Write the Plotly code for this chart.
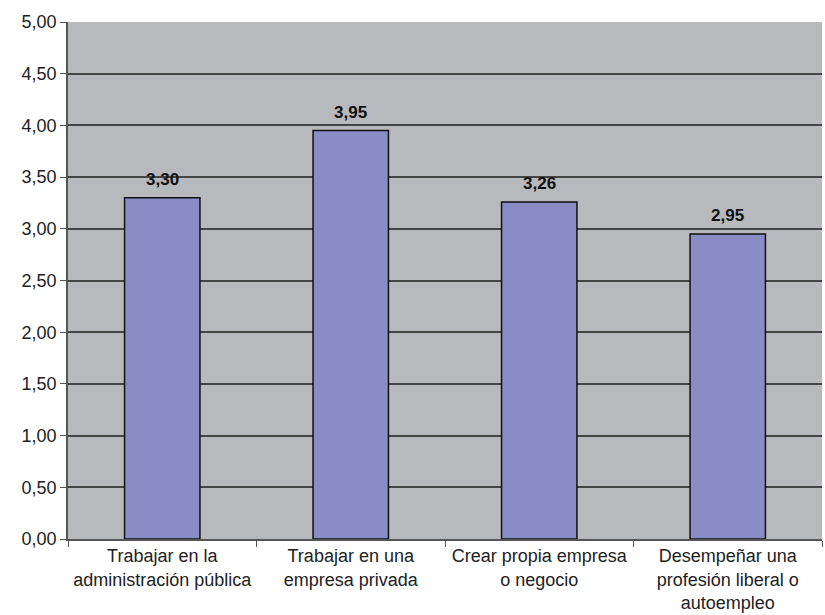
import plotly.graph_objects as go

categories = [
    "Trabajar en la<br>administración pública",
    "Trabajar en una<br>empresa privada",
    "Crear propia empresa<br>o negocio",
    "Desempeñar una<br>profesión liberal o<br>autoempleo",
]
values = [3.30, 3.95, 3.26, 2.95]
labels = ["3,30", "3,95", "3,26", "2,95"]

fig = go.Figure(go.Bar(
    x=categories,
    y=values,
    width=0.4,
    marker=dict(color="#8a8cc6", line=dict(color="#111111", width=1.5)),
))

# value labels above the bars, with a little gap
for cat, val, lab in zip(categories, values, labels):
    fig.add_annotation(
        x=cat, y=val, text=lab, showarrow=False,
        yanchor="bottom", yshift=7,
        font=dict(family="Liberation Sans", size=17, color="#111111", weight="bold"),
    )

fig.update_layout(
    width=825,
    height=615,
    margin=dict(l=68, r=3, t=22, b=76),
    paper_bgcolor="white",
    plot_bgcolor="#b7b9bc",
    separators=",.",
    showlegend=False,
    font=dict(family="Liberation Sans", size=18, color="#222222"),
)
fig.update_yaxes(
    range=[0, 5],
    dtick=0.5,
    tickformat=".2f",
    automargin=False,
    showgrid=True,
    gridcolor="#454545",
    gridwidth=1.5,
    ticks="outside",
    ticklen=6,
    tickcolor="#555555",
    showline=True,
    linecolor="#555555",
    linewidth=1.5,
    zeroline=False,
)
fig.update_xaxes(
    tickson="boundaries",
    automargin=False,
    ticks="outside",
    ticklen=6,
    tickcolor="#555555",
    showline=True,
    linecolor="#555555",
    linewidth=1.5,
    showgrid=False,
)

# drop the default page margin so the figure fills the window
fig.write_html(
    "out.html",
    config={"displayModeBar": False},
    post_script="document.body.style.margin='0';document.body.style.overflow='hidden';",
)
